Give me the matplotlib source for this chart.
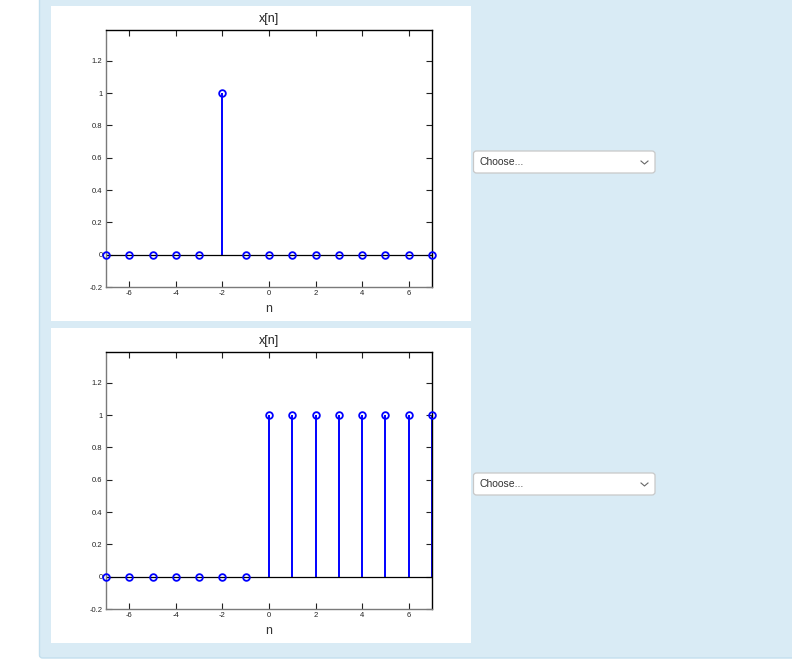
import matplotlib
matplotlib.use("Agg")
import matplotlib.pyplot as plt
from matplotlib.patches import Rectangle, FancyBboxPatch
from matplotlib.lines import Line2D

# Sequences shown in the two panels
n = [-7, -6, -5, -4, -3, -2, -1, 0, 1, 2, 3, 4, 5, 6, 7]
x_impulse = [0, 0, 0, 0, 0, 1, 0, 0, 0, 0, 0, 0, 0, 0, 0]
x_step = [0, 0, 0, 0, 0, 0, 0, 1, 1, 1, 1, 1, 1, 1, 1]
series = [x_impulse, x_step]

x_ticks = [-6, -4, -2, 0, 2, 4, 6]
y_ticks = [-0.2, 0, 0.2, 0.4, 0.6, 0.8, 1, 1.2]
y_tick_labels = ["-0.2", "0", "0.2", "0.4", "0.6", "0.8", "1", "1.2"]
title_text = "x[n]"
xlabel_text = "n"
dropdown_text = "Choose..."

W, H = 792, 661
plt.rcParams["font.family"] = ["Liberation Sans", "DejaVu Sans"]
fig = plt.figure(figsize=(W / 100, H / 100), dpi=100)
fig.patch.set_facecolor("white")


def fx(px):
    return px / W


def fy(py):
    return 1 - py / H


def rect(x0, y0, x1, y1, **kw):
    return Rectangle((fx(x0), fy(y1)), fx(x1) - fx(x0), (y1 - y0) / H,
                     transform=fig.transFigure, **kw)


# page background
bg = FancyBboxPatch((fx(39.5), fy(658)), fx(792) - fx(39.5) + 0.01, 658 / H + 0.02,
                    boxstyle="round,pad=0,rounding_size=0.004",
                    transform=fig.transFigure, facecolor="#d9ebf5",
                    edgecolor="#c3dfee", linewidth=1.0, zorder=-20)
fig.patches.append(bg)

panel_tops = [6, 328]
axes_tops = [30, 352]
dropdown_tops = [151, 473]

for k in range(2):
    pt = panel_tops[k]
    fig.patches.append(rect(51, pt, 471, pt + 315, facecolor="white",
                            edgecolor="none", zorder=-10))

    at = axes_tops[k]
    ax = fig.add_axes([fx(106), fy(at + 257), fx(432) - fx(106), 257 / H])
    ml, sl, bl = ax.stem(n, series[k], linefmt="-", markerfmt="o", basefmt="k-")
    plt.setp(sl, color="#0000ff", linewidth=1.4)
    plt.setp(ml, markerfacecolor="none", markeredgecolor="#0000ff",
             markersize=4.8, markeredgewidth=1.3, clip_on=False, zorder=4)
    plt.setp(bl, color="black", linewidth=0.9)
    ax.set_xlim(-7, 7)
    ax.set_ylim(-0.2, 1.39)
    ax.set_xticks(x_ticks)
    ax.set_xticklabels([str(t) for t in x_ticks])
    ax.set_yticks(y_ticks)
    ax.set_yticklabels(y_tick_labels)
    ax.tick_params(direction="in", length=4, width=0.8, labelsize=5.5,
                   top=True, right=True, pad=2.5, colors="#222222")
    for side in ["left", "bottom"]:
        ax.spines[side].set_color("#7a7a7a")
        ax.spines[side].set_linewidth(1.0)
    for side in ["top", "right"]:
        ax.spines[side].set_color("black")
        ax.spines[side].set_linewidth(1.0)
    ax.set_title(title_text, fontsize=9, pad=6, color="#222222")
    ax.set_xlabel(xlabel_text, fontsize=9, labelpad=4, color="#333333")

    # selection box beside the plot
    dt = dropdown_tops[k]
    box = FancyBboxPatch((fx(473.5), fy(dt + 22)), fx(655) - fx(473.5), 22 / H,
                         boxstyle="round,pad=0,rounding_size=0.004",
                         transform=fig.transFigure, facecolor="white",
                         edgecolor="#c8c8c8", linewidth=0.9)
    fig.patches.append(box)
    fig.text(fx(480), fy(dt + 11), dropdown_text, fontsize=7.5,
             va="center", ha="left", color="#333333")
    fig.lines.append(Line2D([fx(641), fx(644.5), fx(648)],
                            [fy(dt + 10), fy(dt + 13), fy(dt + 10)],
                            transform=fig.transFigure, color="#666666",
                            linewidth=0.8))

fig.savefig("out.png", dpi=100)
